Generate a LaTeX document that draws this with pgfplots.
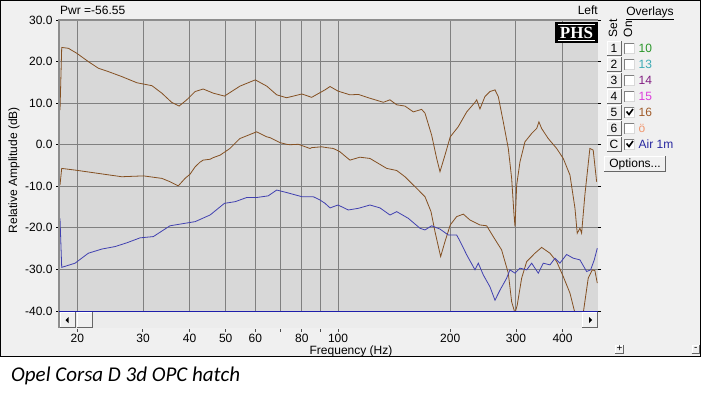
\documentclass[border=0pt]{standalone}
\usepackage{fontspec}
\setmainfont{Liberation Sans}
\newfontfamily\capfont{Carlito}
\newfontfamily\phsfont{Liberation Serif}
\usepackage{pgfplots}
\pgfplotsset{compat=1.18}
\definecolor{winbg}{RGB}{240,240,240}
\definecolor{plotbg}{RGB}{216,216,216}
\definecolor{gridc}{RGB}{128,128,128}
\definecolor{brownc}{RGB}{132,80,34}
\definecolor{bluec}{RGB}{64,64,176}
\definecolor{scrollc}{RGB}{236,236,236}
\definecolor{navyline}{RGB}{30,30,170}
\definecolor{cA}{RGB}{40,150,40}
\definecolor{cB}{RGB}{60,170,180}
\definecolor{cC}{RGB}{130,30,130}
\definecolor{cD}{RGB}{220,60,220}
\definecolor{cE}{RGB}{160,90,40}
\definecolor{cF}{RGB}{240,150,110}
\definecolor{cG}{RGB}{40,40,160}
\newcommand{\rbtn}[4]{%
  \fill[winbg] (#1,#2) rectangle (#3,#4);
  \draw[white, line width=1pt] (#1+0.5,#2+1) -- (#1+0.5,#4-0.5) -- (#3-1,#4-0.5);
  \draw[black!60, line width=1pt] (#1,#2+0.5) -- (#3-0.5,#2+0.5) -- (#3-0.5,#4);
}
\newcommand{\cbox}[1]{%
  \fill[white] (624,#1-5.5) rectangle (635,#1+5.5);
  \draw[gray, line width=1pt] (624.5,#1-5.5) -- (624.5,#1+5) -- (635,#1+5);
  \draw[black!15, line width=0.8pt] (624.5,#1-5) -- (634.6,#1-5) -- (634.6,#1+5);
}
\newcommand{\cmark}[1]{%
  \draw[black, line width=1.6pt] (626.5,#1+0.5) -- (629,#1-2.5) -- (633,#1+3);
}
\begin{document}
\begin{tikzpicture}[x=1pt,y=1pt, font=\fontsize{12}{14}\selectfont]
\path[use as bounding box, fill=white] (0,0) rectangle (703,392);
\fill[winbg] (0,35.5) rectangle (700.5,392);
\begin{axis}[
  at={(59pt,81pt)}, anchor=south west,
  width=539pt, height=291pt, scale only axis,
  xmode=log, xmin=17.86, xmax=498, ymin=-40, ymax=30,
  axis background/.style={fill=plotbg},
  axis line style={draw=none},
  grid=major, major grid style={gridc, line width=1pt},
  xtick={20,30,40,50,60,70,80,90,100,200,300,400},
  xticklabels={20,30,40,50,60,,80,,100,200,300,400},
  ytick={-40,-30,-20,-10,0,10,20,30},
  yticklabels={-40.0,-30.0,-20.0,-10.0,0.0,10.0,20.0,30.0},
  xtick style={draw=none},
  ytick style={draw=black, line width=0.8pt},
  tick align=outside, major tick length=3pt,
  xticklabel style={font=\fontsize{12}{14}\selectfont, yshift=-16.5pt},
  yticklabel style={font=\fontsize{12}{14}\selectfont, anchor=east},
]
\addplot[brownc, line width=0.8pt] coordinates {
(17.97,8.3)(18.16,23.4)(18.92,23.2)(19.93,22.0)(21.4,20.0)(22.77,18.4)(24.2,17.6)
(26.3,16.4)(28.9,14.9)(31.7,14.2)(33.7,12.4)(35.8,10.2)(37.5,9.3)(39.3,10.8)
(41.4,12.8)(43.5,13.4)(46.3,12.4)(49.6,11.7)(54.6,14.1)(60.0,15.6)(64.4,14.1)
(68.5,12.0)(72.8,11.3)(80.0,12.2)(85.0,11.4)(92.3,13.2)(95.2,14.0)(100.0,12.9)
(107.7,12.0)(113.4,12.1)(120.6,11.3)(132.3,10.2)(137.8,10.8)(143.7,9.6)(151.2,9.3)
(159.2,7.9)(167.6,8.5)(171.1,7.6)(178.3,2.3)(183.9,-3.3)(187.7,-6.5)(193.6,-2.5)
(200.0,1.9)(210.0,4.3)(221.4,7.9)(233.0,10.2)(235.5,10.8)(240.2,8.6)(247.8,11.6)
(255.6,12.8)(263.6,13.2)(269.0,11.6)(277.5,5.5)(286.2,-0.9)(292.2,-8.1)(296.5,-16.9)
(298.3,-19.7)(301.4,-9.7)(307.6,-4.1)(317.2,0.7)(330.6,2.7)(341.0,3.9)(345.8,5.5)
(351.6,3.9)(366.2,1.5)(385.8,-0.9)(401.8,-3.3)(418.8,-7.3)(432.0,-15.3)(438.0,-21.3)
(445.4,-20.1)(450.0,-21.3)(459.2,-12.1)(473.6,-0.9)(483.4,-1.3)(493.8,-8.9)
};
\addplot[brownc, line width=0.8pt] coordinates {
(17.97,-9.7)(18.16,-5.7)(19.72,-6.1)(22.77,-6.9)(26.3,-7.7)(30.1,-7.5)(33.7,-8.1)
(35.44,-8.9)(37.3,-9.9)(38.9,-8.1)(40.1,-7.1)(41.4,-5.3)(42.65,-4.2)(43.5,-3.7)
(45.4,-3.5)(46.3,-3.1)(48.3,-2.5)(49.6,-1.8)(51.3,-0.9)(54.0,1.1)(54.6,1.5)
(60.5,3.1)(64.4,1.9)(65.7,1.7)(69.9,0.5)(72.8,0.1)(74.4,0.0)(78.3,0.1)(84.1,-0.9)
(85.0,-0.7)(90.4,-0.5)(93.3,-0.7)(97.1,-0.9)(99.2,-1.3)(101.2,-1.7)(106.6,-3.4)
(107.7,-3.7)(114.5,-3.0)(121.8,-3.3)(135.1,-5.7)(143.7,-6.2)(151.2,-7.7)(160.9,-10.1)
(171.1,-12.5)(177.6,-16.1)(182.0,-20.9)(188.5,-26.9)(193.6,-23.3)(200.0,-19.3)
(208.0,-17.3)(216.8,-16.7)(225.8,-18.1)(240.2,-19.3)(250.4,-19.5)(260.8,-22.1)
(274.6,-25.3)(286.2,-30.9)(292.2,-37.8)(298.3,-40.5)(302.4,-38.6)(310.8,-32.1)
(320.6,-28.1)(337.4,-26.1)(351.6,-24.7)(370.2,-26.1)(385.8,-28.1)(401.8,-31.7)
(418.8,-35.7)(432.0,-40.5)(454.6,-40.5)(468.8,-32.1)(480.6,-30.1)(488.6,-30.3)(495.8,-33.3)
};
\addplot[bluec, line width=0.8pt] coordinates {
(17.97,-17.7)(18.16,-29.5)(19.72,-28.5)(21.4,-26.1)(23.26,-25.1)(25.24,-24.5)
(27.14,-23.6)(29.46,-22.4)(31.98,-22.1)(35.44,-19.5)(38.9,-18.9)(41.4,-18.5)
(45.4,-16.9)(49.6,-14.1)(53.0,-13.7)(56.9,-12.7)(60.5,-12.7)(65.0,-12.3)(68.5,-10.9)
(72.8,-11.5)(80.0,-12.5)(85.8,-12.5)(89.5,-13.3)(92.3,-14.1)(95.2,-15.2)(100.0,-14.5)
(106.6,-15.7)(113.4,-15.3)(121.8,-14.5)(129.6,-15.2)(137.8,-16.9)(143.7,-16.1)
(154.3,-17.7)(165.9,-20.1)(171.1,-20.5)(178.3,-19.5)(187.7,-20.3)(197.5,-21.7)
(208.0,-21.7)(212.4,-23.2)(221.4,-26.5)(233.0,-30.1)(237.8,-28.5)(245.2,-31.3)
(255.6,-34.2)(263.6,-37.4)(271.8,-35.0)(283.3,-32.1)(289.1,-30.1)(298.3,-30.9)
(307.6,-29.7)(320.6,-30.1)(330.6,-28.5)(344.4,-30.9)(355.2,-28.5)(370.2,-28.9)
(381.8,-27.3)(393.6,-28.5)(410.2,-26.4)(427.4,-27.3)(445.4,-27.7)(464.2,-30.5)
(475.8,-30.1)(486.6,-27.7)(495.8,-24.9)
};
\end{axis}
% plot borders
\draw[gridc!90, line width=2pt] (59,64) -- (59,372) -- (598,372);
% scrollbar
\fill[scrollc] (60,64) rectangle (598,80.5);
\draw[navyline, line width=0.9pt] (59,81) -- (598,81);
\rbtn{60}{64}{76}{80}
\rbtn{76.5}{64}{93}{80}
\rbtn{582}{64}{598}{80}
\fill[black] (65.5,72) -- (68.5,75) -- (68.5,69) -- cycle;
\fill[black] (592,72) -- (589,75) -- (589,69) -- cycle;
% small x ticks under the scrollbar
\foreach \px in {77.3,142.7,189.3,225.3,255.3,280.3,301.3,320.3,338.3,450.3,516.3,562.3}
  \draw[black!70, line width=0.8pt] (\px,60.5) -- (\px,63.5);
% texts
\node[anchor=west, inner sep=0] at (60,382) {Pwr =-56.55};
\node[anchor=east, inner sep=0] at (598,382) {Left};
\node[rotate=90] at (14,222) {Relative Amplitude (dB)};
\node at (351,40.5) {Frequency (Hz)};
% PHS logo
\fill[black] (555,349) rectangle (598,370);
\node[white, inner sep=0] at (576.5,359.3) {\phsfont\bfseries\fontsize{17}{17}\selectfont PHS};
\draw[white, line width=1pt] (558,367.6) -- (595,367.6);
\draw[white, line width=1pt] (558,351.4) -- (595,351.4);
% right panel
\node[inner sep=0] at (650,379) {\underline{Overlays}};
\node[rotate=90, inner sep=0] at (613,363.5) {Set};
\node[rotate=90, inner sep=0] at (628,363) {On};
\foreach \ty/\lab in {344/1,328/2,312/3,296/4,280/5,264/6,248/C}{
  \rbtn{607}{\ty-7.5}{621.5}{\ty+7.5}
  \node[inner sep=0] at (614,\ty) {\lab};
  \cbox{\ty}
}
\cmark{280}
\cmark{248}
\node[anchor=west, inner sep=0, text=cA] at (638.5,344) {10};
\node[anchor=west, inner sep=0, text=cB] at (638.5,328) {13};
\node[anchor=west, inner sep=0, text=cC] at (638.5,312) {14};
\node[anchor=west, inner sep=0, text=cD] at (638.5,296) {15};
\node[anchor=west, inner sep=0, text=cE] at (638.5,280) {16};
\node[anchor=west, inner sep=0, text=cF] at (638.5,264) {ö};
\node[anchor=west, inner sep=0, text=cG] at (638.5,248) {Air 1m};
\rbtn{604}{220}{666}{236}
\node[inner sep=0] at (635,228) {Options...};
% +/- boxes
\rbtn{615}{38.5}{624}{47.5}
\node[inner sep=0, font=\fontsize{10}{10}\selectfont] at (619.5,43) {+};
\rbtn{691.5}{38.5}{700}{47.5}
\node[inner sep=0, font=\fontsize{10}{10}\selectfont] at (695.7,43) {-};
% window frame
\draw[black, line width=1.2pt] (0.6,35.6) rectangle (700.4,391.4);
% caption
\node[anchor=base west, inner sep=0] at (11,11) {\capfont\itshape\fontsize{21}{24}\selectfont Opel Corsa D 3d OPC hatch};
\end{tikzpicture}
\end{document}
